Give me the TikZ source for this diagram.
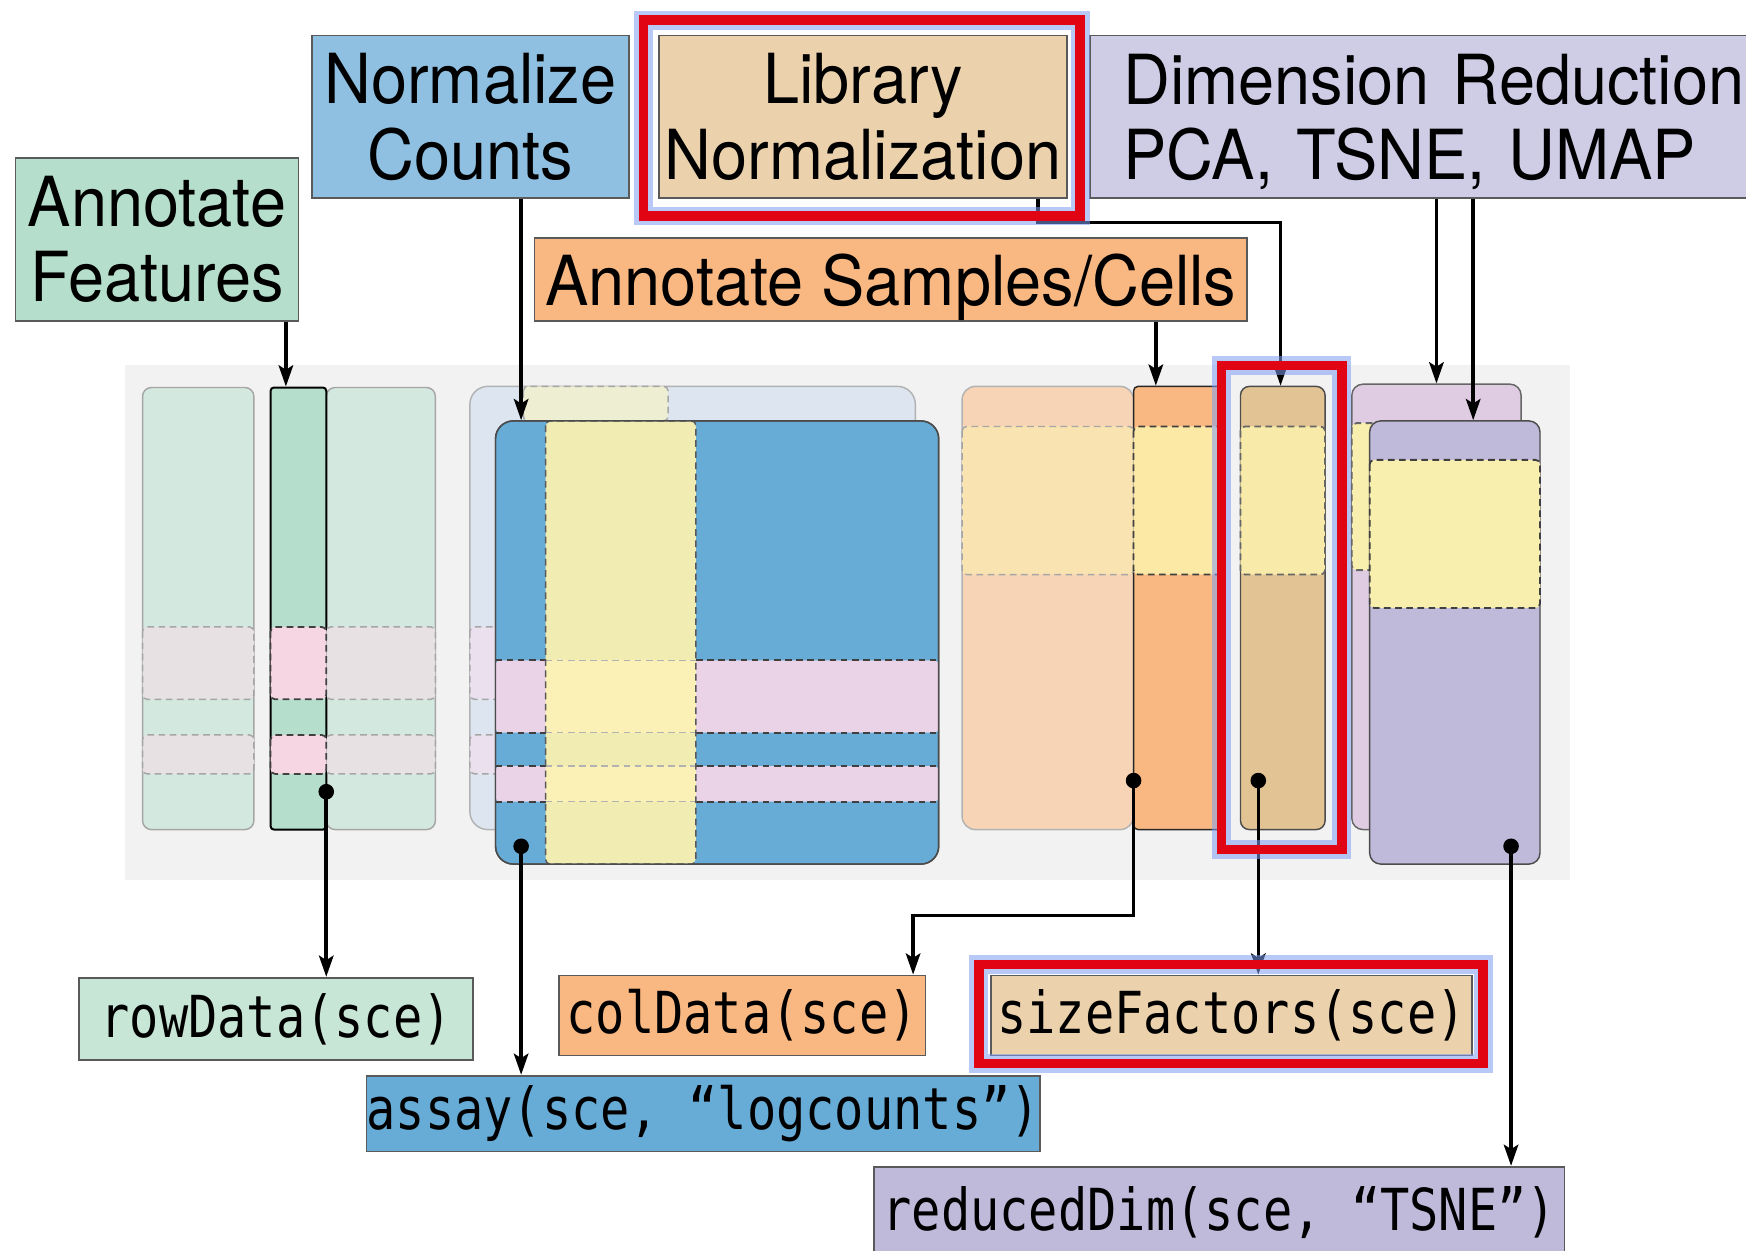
\documentclass[tikz,border=0pt]{standalone}
\usepackage{fontspec}
\usetikzlibrary{arrows.meta,calc}
\newfontfamily\lblfont[FakeStretch=0.94]{TeX Gyre Heros}
\newfontfamily\codefont[FakeStretch=0.84]{DejaVu Sans Mono}
\definecolor{panelgray}{HTML}{F2F2F2}
\definecolor{boxgray}{HTML}{5A5A5A}
\definecolor{gFill}{HTML}{B5DFCC}
\definecolor{gLight}{HTML}{D3E8DE}
\definecolor{gBandLight}{HTML}{E7E1E3}
\definecolor{gBandPink}{HTML}{F7D6E4}
\definecolor{bTop}{HTML}{8FC0E2}
\definecolor{bMain}{HTML}{67ACD6}
\definecolor{bBack}{HTML}{DDE6F0}
\definecolor{yellowCol}{HTML}{F0ECB2}
\definecolor{pinkBand}{HTML}{EAD3E6}
\definecolor{yellowPink}{HTML}{FBF0B5}
\definecolor{backYellow}{HTML}{EEEED3}
\definecolor{backPink}{HTML}{EBE1EE}
\definecolor{tanTop}{HTML}{EBD2AD}
\definecolor{tanCol}{HTML}{E2C393}
\definecolor{tanYellow}{HTML}{F8EAA9}
\definecolor{oMain}{HTML}{F9B882}
\definecolor{oLight}{HTML}{F8D4B6}
\definecolor{oLightYellow}{HTML}{F9E3B0}
\definecolor{oYellow}{HTML}{FDE9A6}
\definecolor{pTop}{HTML}{CFCDE6}
\definecolor{pMain}{HTML}{BFB9DA}
\definecolor{pBack}{HTML}{DFCCE2}
\definecolor{pYellow}{HTML}{F8EEAE}
\definecolor{rowFill}{HTML}{C8E6D6}
\definecolor{hlred}{HTML}{E10514}
\definecolor{glowblue}{HTML}{7F9BF2}
\tikzset{
  topbox/.style={draw=boxgray, line width=1.5pt, inner sep=0pt, align=center,
    font=\lblfont\fontsize{62}{68}\selectfont},
  codebox/.style={draw=boxgray, line width=1.5pt, inner sep=0pt,
    font=\codefont\fontsize{52}{56}\selectfont},
  colbox/.style={line width=1.3pt, inner sep=0pt},
  bandfaint/.style={draw=gray!70, dash pattern=on 6pt off 4pt, line width=1.3pt, rounded corners=4},
  banddark/.style={draw=black!75, dash pattern=on 6pt off 4pt, line width=1.6pt, rounded corners=4},
  arr/.style={-{Stealth[length=19pt,width=13pt,inset=4pt]}, line width=3.2pt},
  blackdot/.style={circle, fill=black, inner sep=0pt, minimum size=14pt},
  hlbox/.style={draw=hlred, line width=8.5pt, inner sep=0pt,
    preaction={draw=glowblue, line width=17pt, draw opacity=0.55}},
}
\begin{document}
\begin{tikzpicture}[x=1pt,y=-1pt]
\path[use as bounding box] (0,0) rectangle (1568,1123);
\clip (0,0) rectangle (1568,1123);
\fill[white] (0,0) rectangle (1568,1123);
% background panel
\fill[panelgray] (112,328) rectangle (1410,790);

% ---------- green group ----------
\node (gl) [colbox, fill=gLight, draw=gray!70, rounded corners=8, minimum width=100, minimum height=397] at (178,546.5) {};
\node (gr) [colbox, fill=gLight, draw=gray!70, rounded corners=8, minimum width=98, minimum height=397] at (342,546.5) {};
\node (gmid) [colbox, fill=gFill, draw=black, line width=1.8pt, rounded corners=3, minimum width=50, minimum height=397] at (268,546.5) {};
\path[bandfaint, fill=gBandLight] (128,563) rectangle (228,628);
\path[bandfaint, fill=gBandLight] (128,660) rectangle (228,695);
\path[bandfaint, fill=gBandLight] (293,563) rectangle (391,628);
\path[bandfaint, fill=gBandLight] (293,660) rectangle (391,695);
\path[banddark, fill=gBandPink] (243,563) rectangle (293,628);
\path[banddark, fill=gBandPink] (243,660) rectangle (293,695);

% ---------- blue group ----------
\node (bback) [colbox, fill=bBack, draw=gray!60, rounded corners=16, minimum width=400, minimum height=398] at (622,546) {};
\path[bandfaint, fill=backPink] (422,563) rectangle (822,628);
\path[bandfaint, fill=backPink] (422,660) rectangle (822,695);
\path[bandfaint, fill=backYellow] (470,347) rectangle (600,378);
\node (bfront) [colbox, fill=bMain, draw=black!70, rounded corners=16, minimum width=398, minimum height=398] at (644,577) {};
\fill[pinkBand, rounded corners=4] (445,593) rectangle (843,658);
\fill[pinkBand, rounded corners=4] (445,688) rectangle (843,720);
\fill[yellowCol, rounded corners=6] (490,378) rectangle (625,776);
\fill[yellowPink] (490,593) rectangle (625,658);
\fill[yellowPink] (490,688) rectangle (625,720);
\draw[banddark] (445,593) -- (490,593) (625,593) -- (843,593) (445,658) -- (490,658) (625,658) -- (843,658);
\draw[banddark] (445,688) -- (490,688) (625,688) -- (843,688) (445,720) -- (490,720) (625,720) -- (843,720);
\draw[bandfaint, draw=black!30] (490,593) -- (625,593) (490,658) -- (625,658) (490,688) -- (625,688) (490,720) -- (625,720);
\draw[banddark, draw=black!65, line width=1.3pt] (490,378) rectangle (625,776);
\draw[colbox, draw=black!70, rounded corners=16] (445,378) rectangle (843,776);

% ---------- orange group ----------
\node (ol) [colbox, fill=oLight, draw=gray!60, rounded corners=12, minimum width=154, minimum height=398] at (941,546) {};
\node (omid) [colbox, fill=oMain, draw=black!85, rounded corners=4, minimum width=82, minimum height=398] at (1059,546) {};
\path[bandfaint, fill=oLightYellow] (864,383) rectangle (1018,516);
\path[banddark, fill=oYellow] (1018,383) rectangle (1100,516);

% ---------- tan column ----------
\node (tcol) [colbox, fill=tanCol, draw=black!70, rounded corners=8, minimum width=76, minimum height=398] at (1152,546) {};
\path[banddark, draw=black!60, fill=tanYellow] (1114,383) rectangle (1190,516);

% ---------- purple group ----------
\node (pback) [colbox, fill=pBack, draw=black!60, rounded corners=10, minimum width=152, minimum height=400] at (1290,545) {};
\path[banddark, draw=black!60, fill=pYellow] (1214,380) rectangle (1366,512);
\node (pfront) [colbox, fill=pMain, draw=black!70, rounded corners=10, minimum width=153, minimum height=398] at (1306.5,577) {};
\path[banddark, fill=pYellow] (1230,413) rectangle (1383,546);

% ---------- top boxes ----------
\node (annF) [topbox, fill=gFill, minimum width=254, minimum height=146] at (141,215) {Annotate\\Features};
\node (normC) [topbox, fill=bTop, minimum width=285, minimum height=146] at (422.5,105) {Normalize\\Counts};
\node (libN) [topbox, fill=tanTop, minimum width=366, minimum height=146] at (775,105) {Library\\Normalization};
\node (dimR) [topbox, fill=pTop, minimum height=146, anchor=west, align=left, text width=580, inner xsep=30pt] at (978,105) {\rule{0pt}{54pt}Dimension Reduction\\PCA, TSNE, UMAP};
\node (annS) [topbox, fill=oMain, minimum width=640, minimum height=74, text depth=0pt] at (800,251) {Annotate Samples/Cells};

% ---------- bottom boxes ----------
\node (rowD) [codebox, fill=rowFill, minimum width=354, minimum height=74] at (248,915) {rowData(sce)};
\node (colD) [codebox, fill=oMain, minimum width=329, minimum height=72] at (666.5,912) {colData(sce)};
\node (sizeF) [codebox, fill=tanTop, minimum width=432, minimum height=72] at (1106,912) {sizeFactors(sce)};
\node (assayB) [codebox, fill=bMain, minimum width=605, minimum height=68] at (631.5,1000) {assay(sce, “logcounts”)};
\node (redD) [codebox, fill=pMain, minimum width=620, minimum height=82, anchor=north] at (1095,1047) {\raisebox{-4pt}{reducedDim(sce, “TSNE”)}};

% ---------- helper x/y positions ----------
\coordinate (xs) at (1038,0);
\coordinate (xl) at (932,0);
\coordinate (xt) at (1150,0);
\coordinate (xp1) at (1290,0);
\coordinate (xp2) at (1323,0);
\coordinate (xc) at (820,0);
\coordinate (yc) at (0,822);

% ---------- dots ----------
\node (gdot) [blackdot] at (293,711) {};
\node (bdot) [blackdot] at (468,760) {};
\node (odot) [blackdot] at (1018,701) {};
\node (tdot) [blackdot] at (1130,701) {};
\node (pdot) [blackdot] at (1357,760) {};

% ---------- connectors ----------
\draw[arr] ([xshift=-12pt]annF.south east) -- ([xshift=-12pt]annF.south east |- gmid.north);
\draw[arr] (normC.south -| bdot) -- (bfront.north -| bdot);
\draw[arr] (annS.south -| xs) -- (omid.north -| xs);
\draw[arr] (libN.south -| xl) -- ++(0,21) -| (tcol.north -| xt);
\draw[arr] (dimR.south -| xp1) -- (pback.north -| xp1);
\draw[arr] (dimR.south -| xp2) -- (pfront.north -| xp2);

\draw[arr] (gdot.center) -- (rowD.north -| gdot);
\draw[arr] (bdot.center) -- (assayB.north -| bdot);
\draw[arr] (odot.center) -- (odot |- yc) -| (colD.north -| xc);
\draw[arr] (tdot.center) -- (sizeF.north -| tdot);
\draw[arr] (pdot.center) -- (redD.north -| pdot);

% ---------- highlight frames ----------
\node (hlLib) [hlbox, minimum width=392, minimum height=176] at (774,106) {};
\node (hlCol) [hlbox, minimum width=108, minimum height=435] at (1151,545.5) {};
\node (hlSize) [hlbox, minimum width=453, minimum height=89] at (1105.5,910.5) {};
\end{tikzpicture}
\end{document}
